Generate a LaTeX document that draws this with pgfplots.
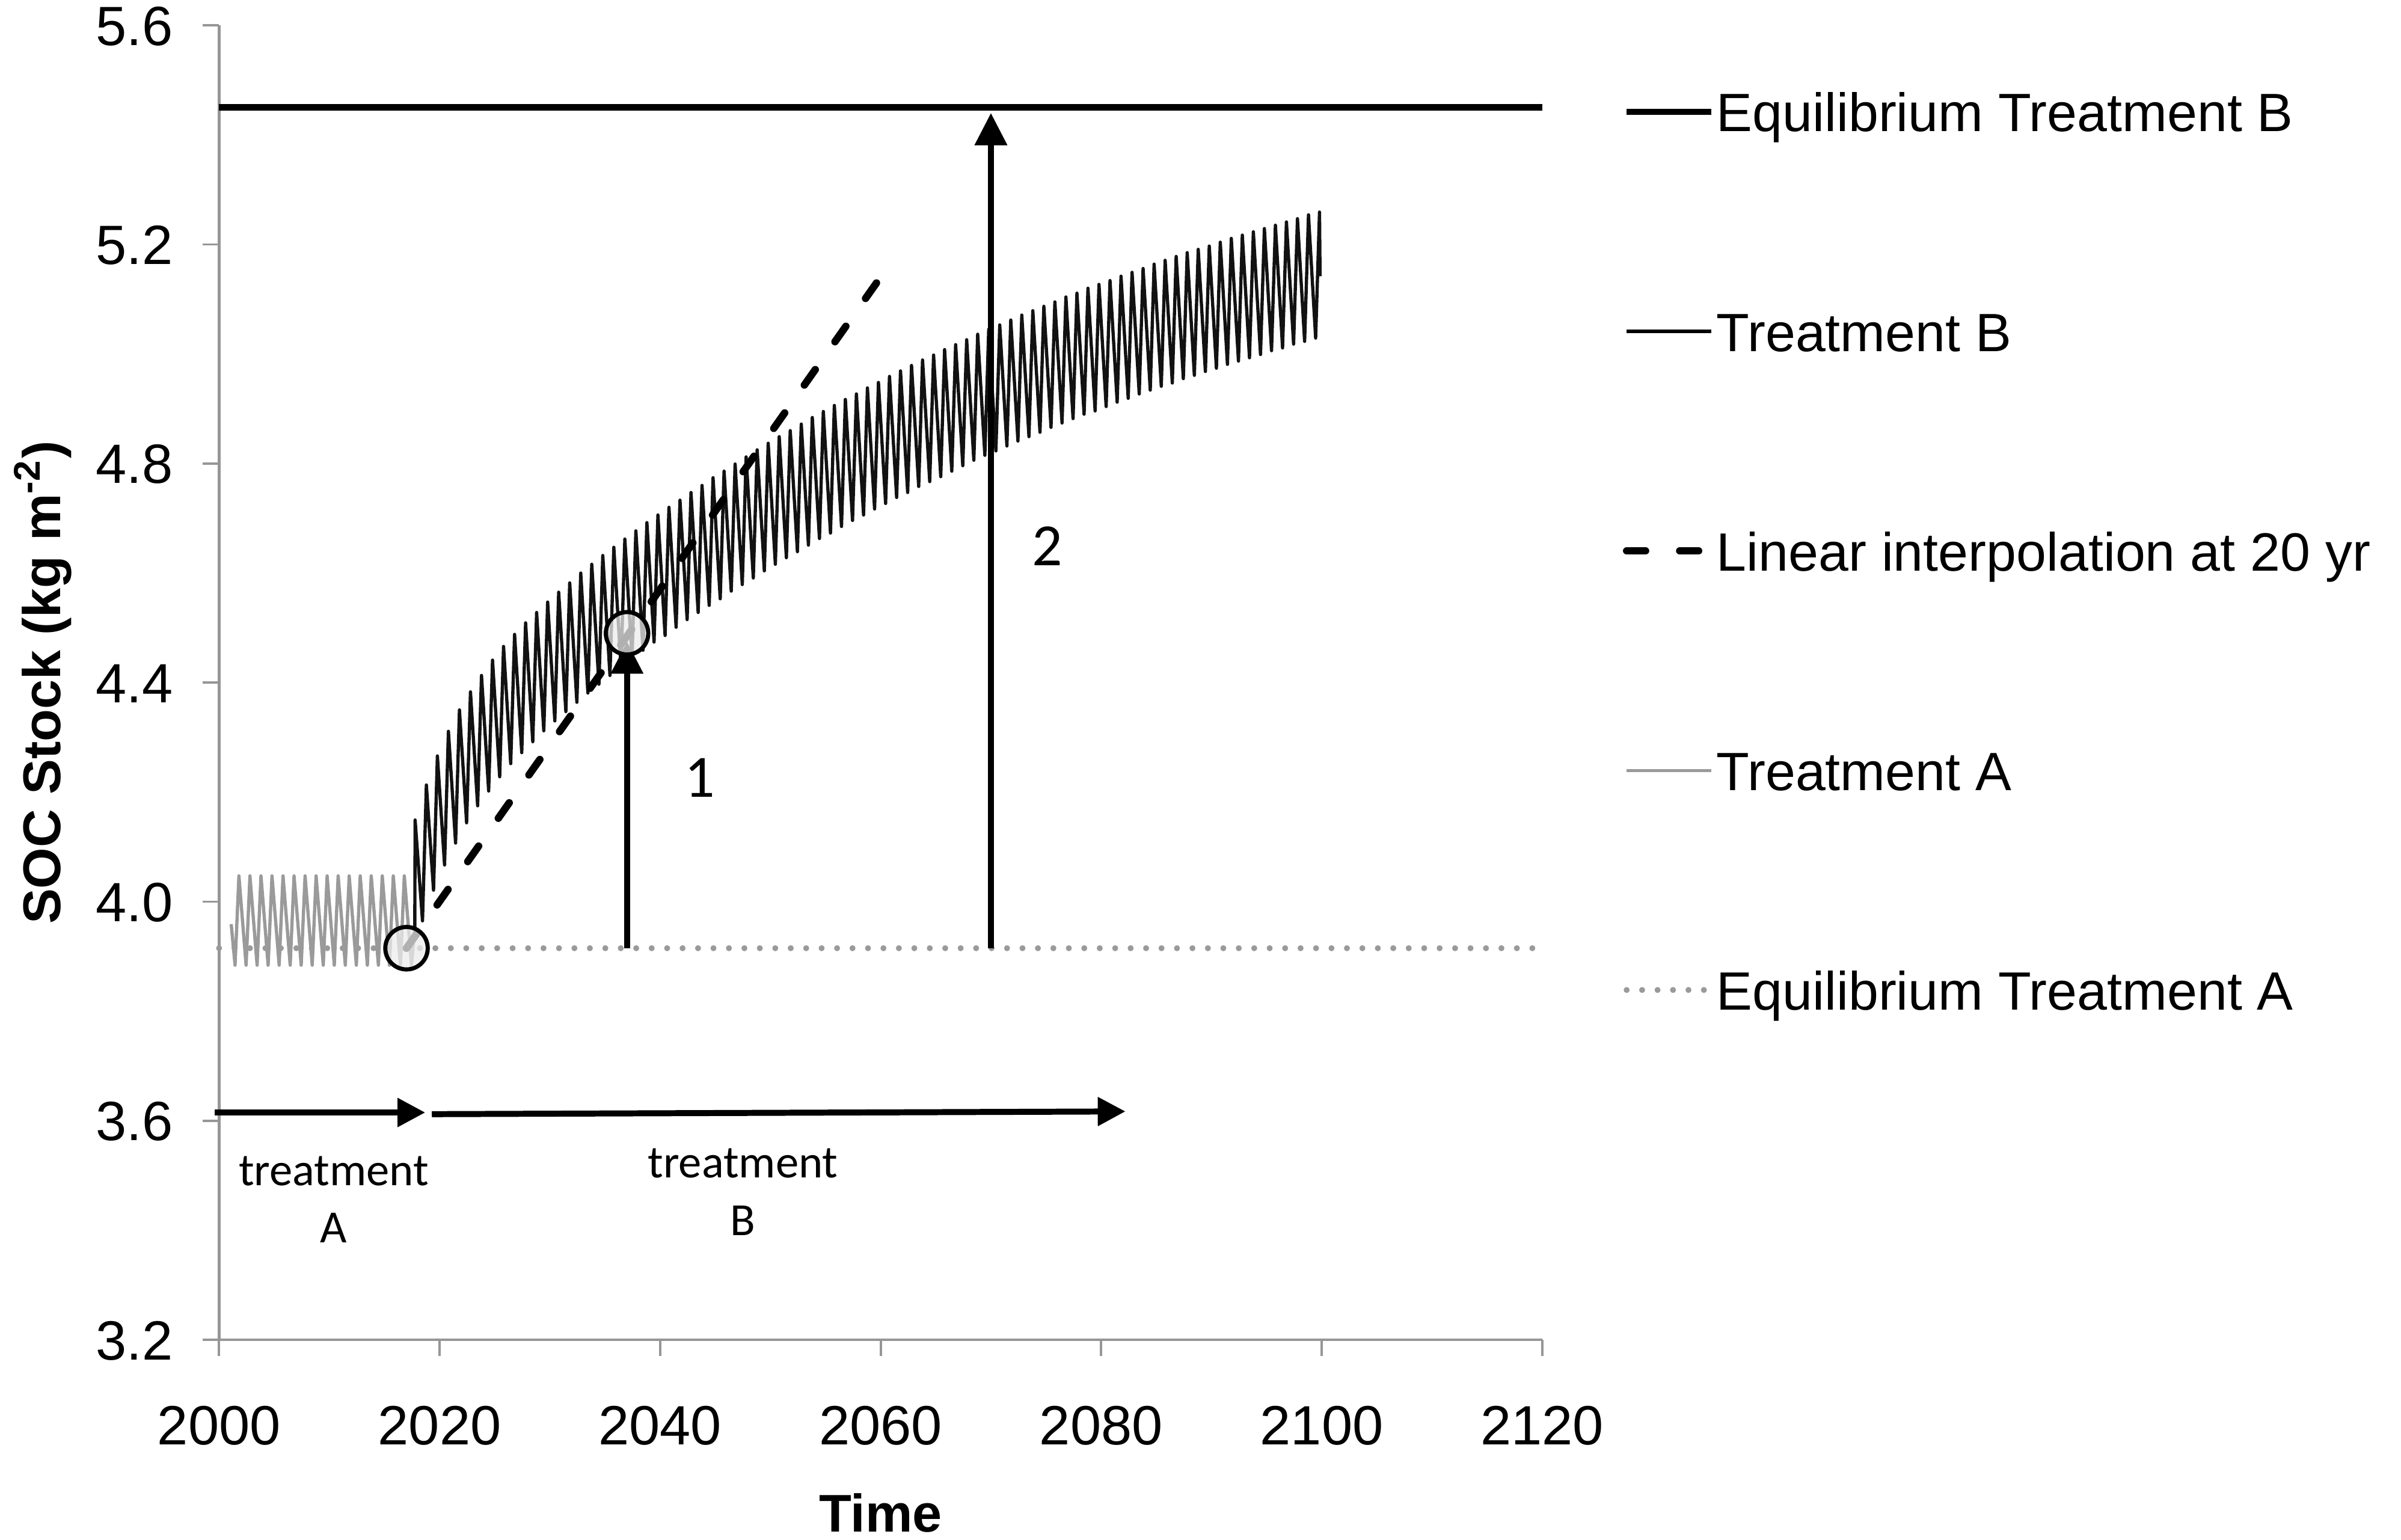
\documentclass[border=0pt]{standalone}
\usepackage{fontspec}
\setmainfont{Liberation Sans}
\newfontfamily\carlito{Carlito}
\usepackage{pgfplots}
\pgfplotsset{compat=1.18}
\usetikzlibrary{arrows.meta}
\definecolor{axgray}{HTML}{969696}
\definecolor{lgray}{HTML}{9A9A9A}
\begin{document}
\begin{tikzpicture}
\useasboundingbox (-47.5pt,-43.4pt) rectangle (473.1pt,290.5pt);
\begin{axis}[
  at={(0pt,0pt)}, anchor=south west,
  scale only axis, width=286.9pt, height=285pt,
  xmin=2000, xmax=2120, ymin=3.2, ymax=5.6,
  xtick={2000,2020,2040,2060,2080,2100,2120},
  ytick={3.2,3.6,4.0,4.4,4.8,5.2,5.6},
  axis x line*=bottom, axis y line*=left,
  axis line style={draw=axgray, line width=0.6pt},
  tick style={draw=axgray, line width=0.5pt},
  tick align=outside, major tick length=3.5pt,
  /pgf/number format/assume math mode=true,
  tick label style={font=\fontsize{12}{14}\selectfont, inner sep=0pt, text height=8.6pt, text depth=0pt},
  xticklabel style={anchor=north, yshift=-10.4pt, /pgf/number format/set thousands separator={}},
  yticklabel style={anchor=east, xshift=-6.3pt, /pgf/number format/.cd, fixed, fixed zerofill, precision=1},
  xlabel={Time},
  xlabel style={at={(axis description cs:0.5,-0.1316)}, anchor=center, font=\fontsize{11.5}{13}\selectfont\bfseries},
  ylabel={SOC Stock (kg m\textsuperscript{-2})},
  ylabel style={at={(axis description cs:-0.1331,0.5)}, anchor=center, font=\fontsize{11.5}{13}\selectfont\bfseries},
  clip=false,
  legend cell align=left,
  legend image code/.code={\draw[#1] (0pt,0pt) -- (18.3pt,0pt);},
  legend style={at={(axis description cs:1.0610,0.9493)}, anchor=north west, draw=none, fill=none,
    inner sep=0pt, outer sep=0pt, row sep=39pt, column sep=0.4pt,
    font=\fontsize{11.7}{14}\selectfont,
    nodes={inner sep=0pt, text height=8.6pt, text depth=0pt}},
]
% legend entries
\addlegendimage{black, line width=1.4pt}
\addlegendentry{Equilibrium Treatment B}
\addlegendimage{black, line width=0.7pt}
\addlegendentry{Treatment B}
\addlegendimage{black, line width=1.6pt, line cap=round, dash pattern=on 4.1pt off 7.4pt}
\addlegendentry{Linear interpolation at 20 yr}
\addlegendimage{lgray, line width=0.7pt}
\addlegendentry{Treatment A}
\addlegendimage{lgray, line width=1.3pt, line cap=round, dash pattern=on 0pt off 3.35pt}
\addlegendentry{Equilibrium Treatment A}

% Equilibrium Treatment A
\addplot[forget plot, lgray, line width=1.3pt, line cap=round, dash pattern=on 0pt off 3.35pt]
  coordinates {(2000,3.915) (2120,3.915)};

% Treatment A
\addplot[forget plot, lgray, line width=0.7pt, line join=round] coordinates {
(2001.1,3.959)
(2001.45,3.884) (2001.8,4.047)
(2002.45,3.884) (2002.8,4.047)
(2003.45,3.884) (2003.8,4.047)
(2004.45,3.884) (2004.8,4.047)
(2005.45,3.884) (2005.8,4.047)
(2006.45,3.884) (2006.8,4.047)
(2007.45,3.884) (2007.8,4.047)
(2008.45,3.884) (2008.8,4.047)
(2009.45,3.884) (2009.8,4.047)
(2010.45,3.884) (2010.8,4.047)
(2011.45,3.884) (2011.8,4.047)
(2012.45,3.884) (2012.8,4.047)
(2013.45,3.884) (2013.8,4.047)
(2014.45,3.884) (2014.8,4.047)
(2015.45,3.884) (2015.8,4.047)
(2016.45,3.884) (2016.8,4.047)
(2017.45,3.884) (2017.75,3.953)
};

% Treatment B
\addplot[forget plot, black!93, line width=0.7pt, line join=round] coordinates {
(2017.75,3.953) (2017.78,4.149)
(2018.45,3.965) (2018.8,4.213)
(2019.45,4.021) (2019.8,4.266)
(2020.45,4.067) (2020.8,4.311)
(2021.45,4.107) (2021.8,4.350)
(2022.45,4.144) (2022.8,4.383)
(2023.45,4.175) (2023.8,4.413)
(2024.45,4.202) (2024.8,4.441)
(2025.45,4.228) (2025.8,4.466)
(2026.45,4.252) (2026.8,4.488)
(2027.45,4.272) (2027.8,4.509)
(2028.45,4.292) (2028.8,4.528)
(2029.45,4.312) (2029.8,4.547)
(2030.45,4.330) (2030.8,4.565)
(2031.45,4.347) (2031.8,4.582)
(2032.45,4.364) (2032.8,4.600)
(2033.45,4.381) (2033.8,4.616)
(2034.45,4.397) (2034.8,4.632)
(2035.45,4.413) (2035.8,4.647)
(2036.45,4.429) (2036.8,4.662)
(2037.45,4.444) (2037.8,4.677)
(2038.45,4.459) (2038.8,4.692)
(2039.45,4.474) (2039.8,4.706)
(2040.45,4.486) (2040.8,4.720)
(2041.45,4.501) (2041.8,4.733)
(2042.45,4.515) (2042.8,4.747)
(2043.45,4.528) (2043.8,4.760)
(2044.45,4.541) (2044.8,4.774)
(2045.45,4.553) (2045.8,4.786)
(2046.45,4.567) (2046.8,4.799)
(2047.45,4.579) (2047.8,4.812)
(2048.45,4.591) (2048.8,4.825)
(2049.45,4.604) (2049.8,4.837)
(2050.45,4.616) (2050.8,4.849)
(2051.45,4.628) (2051.8,4.860)
(2052.45,4.639) (2052.8,4.872)
(2053.45,4.651) (2053.8,4.884)
(2054.45,4.663) (2054.8,4.895)
(2055.45,4.673) (2055.8,4.906)
(2056.45,4.685) (2056.8,4.917)
(2057.45,4.696) (2057.8,4.927)
(2058.45,4.706) (2058.8,4.938)
(2059.45,4.717) (2059.8,4.948)
(2060.45,4.727) (2060.8,4.959)
(2061.45,4.738) (2061.8,4.969)
(2062.45,4.747) (2062.8,4.979)
(2063.45,4.758) (2063.8,4.989)
(2064.45,4.767) (2064.8,4.998)
(2065.45,4.776) (2065.8,5.008)
(2066.45,4.786) (2066.8,5.017)
(2067.45,4.796) (2067.8,5.026)
(2068.45,4.806) (2068.8,5.036)
(2069.45,4.815) (2069.8,5.045)
(2070.45,4.823) (2070.8,5.053)
(2071.45,4.832) (2071.8,5.062)
(2072.45,4.841) (2072.8,5.071)
(2073.45,4.849) (2073.8,5.079)
(2074.45,4.857) (2074.8,5.087)
(2075.45,4.866) (2075.8,5.095)
(2076.45,4.874) (2076.8,5.104)
(2077.45,4.882) (2077.8,5.111)
(2078.45,4.890) (2078.8,5.120)
(2079.45,4.896) (2079.8,5.127)
(2080.45,4.904) (2080.8,5.134)
(2081.45,4.912) (2081.8,5.142)
(2082.45,4.919) (2082.8,5.149)
(2083.45,4.927) (2083.8,5.156)
(2084.45,4.934) (2084.8,5.164)
(2085.45,4.941) (2085.8,5.171)
(2086.45,4.947) (2086.8,5.178)
(2087.45,4.955) (2087.8,5.185)
(2088.45,4.961) (2088.8,5.191)
(2089.45,4.968) (2089.8,5.197)
(2090.45,4.974) (2090.8,5.204)
(2091.45,4.981) (2091.8,5.211)
(2092.45,4.987) (2092.8,5.217)
(2093.45,4.993) (2093.8,5.223)
(2094.45,4.999) (2094.8,5.229)
(2095.45,5.006) (2095.8,5.235)
(2096.45,5.011) (2096.8,5.241)
(2097.45,5.018) (2097.8,5.247)
(2098.45,5.023) (2098.8,5.254)
(2099.45,5.029) (2099.8,5.259)
(2099.85,5.142)
};

% Equilibrium Treatment B
\addplot[forget plot, black, line width=1.4pt] coordinates {(2000,5.45) (2120,5.45)};

% Linear interpolation at 20 yr
\addplot[forget plot, black, line width=1.6pt, line cap=round, dash pattern=on 4.1pt off 7.4pt]
  coordinates {(2017,3.915) (2060.3,5.149)};

% circles
\addplot[forget plot, only marks, mark=*, mark size=4.6pt,
  mark options={draw=black, line width=0.9pt, fill=gray!15, fill opacity=0.75}]
  coordinates {(2017,3.915) (2037,4.49)};

% vertical arrows
\addplot[forget plot, black, line width=1.3pt, -{Triangle[width=6.8pt,length=7pt]}]
  coordinates {(2037,3.915) (2037,4.475)};
\addplot[forget plot, black, line width=1.3pt, -{Triangle[width=6.8pt,length=7pt]}]
  coordinates {(2070,3.915) (2070,5.44)};

% treatment period arrows
\addplot[forget plot, black, line width=1.3pt, -{Triangle[width=6pt,length=6pt]}]
  coordinates {(1999.6,3.615) (2018.7,3.615)};
\addplot[forget plot, black, line width=1.3pt, -{Triangle[width=6pt,length=6pt]}]
  coordinates {(2019.3,3.612) (2082.2,3.617)};

% labels
\node[font=\carlito\fontsize{13}{15}\selectfont] at (axis cs:2043.6,4.226) {1};
\node[font=\carlito\fontsize{13}{15}\selectfont] at (axis cs:2075.1,4.649) {2};
\node[font=\carlito\fontsize{10}{12}\selectfont] at (axis cs:2010.4,3.508) {treatment};
\node[font=\carlito\fontsize{10}{12}\selectfont] at (axis cs:2010.4,3.404) {A};
\node[font=\carlito\fontsize{10}{12}\selectfont] at (axis cs:2047.5,3.522) {treatment};
\node[font=\carlito\fontsize{10}{12}\selectfont] at (axis cs:2047.5,3.418) {B};
\end{axis}
\end{tikzpicture}
\end{document}
